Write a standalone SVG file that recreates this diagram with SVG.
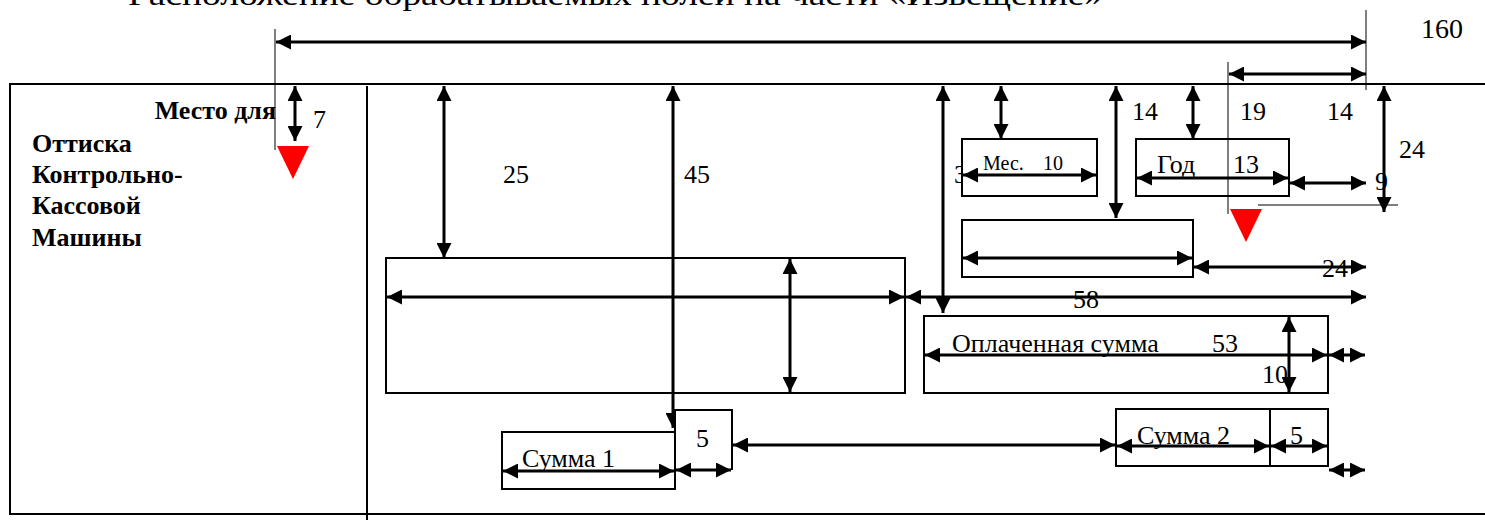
<svg xmlns="http://www.w3.org/2000/svg" width="1485" height="520" viewBox="0 0 1485 520">
<style>
text{font-family:"Liberation Serif","Times New Roman",serif;fill:#000}
.t{font-size:26px}
.n{font-size:26px}
.s{font-size:20px}
.b{font-size:26px;font-weight:bold}
.frame{stroke:#000;stroke-width:2;fill:none}
.box{stroke:#000;stroke-width:2;fill:#fff}
.thin{stroke:#000;stroke-width:1;fill:none}
.dim{stroke:#000;stroke-width:3;fill:none;marker-start:url(#ah);marker-end:url(#ah)}
.red{fill:#ff0000}
</style>
<defs>
<marker id="ah" viewBox="0 0 15 15" markerWidth="15" markerHeight="15" refX="15" refY="7.5" orient="auto-start-reverse" markerUnits="userSpaceOnUse">
<path d="M0,0 L15,7.5 L0,15 z" fill="#000"/>
</marker>
</defs>
<rect width="1485" height="520" fill="#fff"/>
<text x="128" y="5" style="font-size:30px" textLength="975" lengthAdjust="spacingAndGlyphs">Расположение обрабатываемых полей на части «Извещение»</text>

<g id="frame">
<path class="frame" d="M1485,84 H10 V514 H1485"/>
<path class="frame" d="M367,86 V520"/>
</g>

<g id="kkm-area">
<text class="b" x="276" y="119" text-anchor="end">Место для</text>
<text class="b" x="32" y="152">Оттиска</text>
<text class="b" x="32" y="183">Контрольно-</text>
<text class="b" x="32" y="214">Кассовой</text>
<text class="b" x="32" y="246">Машины</text>
</g>

<g id="labels">
<text class="n" x="313" y="128">7</text>
<text class="n" x="503" y="183">25</text>
<text class="n" x="684" y="183">45</text>
<text class="n" x="954" y="183">3</text>
<text class="n" x="1132" y="120">14</text>
<text class="n" x="1240" y="120">19</text>
<text class="n" x="1327" y="120">14</text>
<text class="n" x="1399" y="158">24</text>
<text class="n" x="1375" y="190">9</text>
<text style="font-size:28px" x="1421" y="38">160</text>
</g>

<g id="field-mes">
<rect class="box" x="962" y="139" width="135" height="57"/>
<text class="s" x="983" y="170"><tspan>Мес. </tspan><tspan x="1043">10</tspan></text>
</g>

<g id="field-god">
<rect class="box" x="1136" y="139" width="153" height="57"/>
<text class="t" x="1157" y="173"><tspan>Год </tspan><tspan x="1233">13</tspan></text>
</g>

<g id="field-empty-top">
<rect class="box" x="962" y="220" width="231" height="57"/>
</g>

<g id="field-big">
<rect class="box" x="386" y="258" width="519" height="135"/>
</g>

<g id="field-oplach">
<rect class="box" x="924" y="316" width="404" height="77"/>
<text class="t" x="952" y="352"><tspan>Оплаченная сумма </tspan><tspan x="1212">53</tspan></text>
<text class="t" x="1262" y="383">10</text>
</g>

<g id="field-summa1">
<rect class="box" x="502" y="432" width="173" height="57"/>
<text class="t" x="522" y="467">Сумма 1</text>
</g>

<g id="field-summa2">
<rect class="box" x="1116" y="409" width="154" height="57"/>
<text class="t" x="1137" y="444">Сумма 2</text>
</g>

<g id="field-5b">
<rect class="box" x="1270" y="409" width="58" height="57"/>
<text class="t" x="1290" y="444">5</text>
</g>

<g id="connectors">
<line class="thin" x1="275" y1="29" x2="275" y2="150"/>
<line class="thin" x1="1366" y1="10" x2="1366" y2="90"/>
<line class="thin" x1="1228" y1="62" x2="1228" y2="214"/>
<line class="thin" x1="1258" y1="205" x2="1398" y2="205"/>
<line class="dim" x1="276" y1="42" x2="1366" y2="42"/>
<line class="dim" x1="1229" y1="74" x2="1366" y2="74"/>
<line class="dim" x1="295" y1="86" x2="295" y2="141"/>
<line class="dim" x1="444" y1="86" x2="444" y2="258"/>
<line class="dim" x1="943" y1="86" x2="943" y2="313"/>
<line class="dim" x1="1001" y1="86" x2="1001" y2="139"/>
<line class="dim" x1="1116" y1="86" x2="1116" y2="218"/>
<line class="dim" x1="1193" y1="86" x2="1193" y2="139"/>
<line class="dim" x1="1384" y1="86" x2="1384" y2="212"/>
<line class="dim" x1="963" y1="175" x2="1096" y2="175"/>
<line class="dim" x1="1137" y1="178" x2="1288" y2="178"/>
<line class="dim" x1="1290" y1="183" x2="1366" y2="183"/>
<line class="dim" x1="963" y1="258" x2="1192" y2="258"/>
<line class="dim" x1="1194" y1="267" x2="1366" y2="267"/>
<line class="dim" x1="387" y1="297" x2="904" y2="297"/>
<line class="dim" x1="790" y1="259" x2="790" y2="392"/>
<line class="dim" x1="906" y1="297" x2="1366" y2="297"/>
<line class="dim" x1="925" y1="355" x2="1327" y2="355"/>
<line class="dim" x1="1289" y1="317" x2="1289" y2="392"/>
<line class="dim" x1="1329" y1="355" x2="1365" y2="355"/>
<line class="dim" x1="503" y1="471" x2="674" y2="471"/>
<line class="dim" x1="733" y1="445" x2="1115" y2="445"/>
<line class="dim" x1="1117" y1="446" x2="1269" y2="446"/>
<line class="dim" x1="1271" y1="446" x2="1327" y2="446"/>
<line class="dim" x1="1329" y1="470" x2="1365" y2="470"/>
<line class="dim" x1="673" y1="86" x2="673" y2="428"/>
</g>

<g id="field-5a">
<path class="box" d="M675,470 V410 H732 V470"/>
<text class="t" x="696" y="447">5</text>
<line class="dim" x1="676" y1="470" x2="731" y2="470"/>
</g>

<g id="cover-labels">
<text class="n" x="1073" y="308">58</text>
<text class="n" x="1322" y="277">24</text>
</g>

<g id="markers">
<polygon class="red" points="277,146 309,146 293,179"/>
<polygon class="red" points="1230,209 1262,209 1246,242"/>
</g>
</svg>
